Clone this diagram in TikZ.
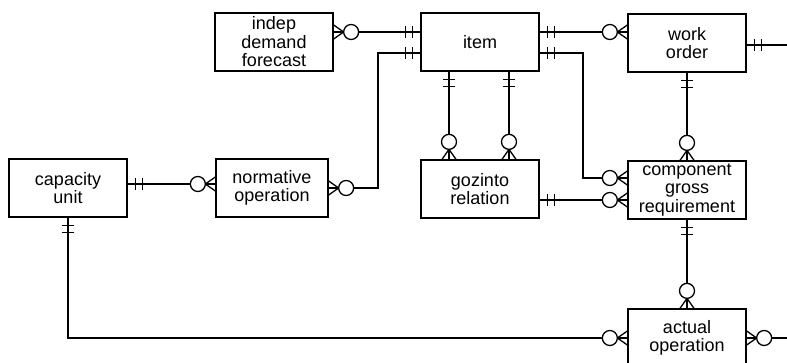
\documentclass[tikz,border=0pt]{standalone}
\usepackage{fontspec}
\newfontfamily\erfont{Liberation Sans}
\usetikzlibrary{decorations.markings}
\tikzset{
  entity/.style={draw,fill=white,minimum width=118pt,minimum height=58pt,align=center,inner sep=1pt,
    font=\erfont\fontsize{18}{18.5}\selectfont},
  one start/.style={postaction={decoration={markings,mark=at position 0 with
    {\draw (8pt,-6pt) -- (8pt,6pt) (15pt,-6pt) -- (15pt,6pt);}},decorate}},
  one end/.style={postaction={decoration={markings,mark=at position 1 with
    {\draw (-8pt,-6pt) -- (-8pt,6pt) (-15pt,-6pt) -- (-15pt,6pt);}},decorate}},
  many start/.style={postaction={decoration={markings,mark=at position 0 with
    {\draw (0pt,7pt) -- (10pt,0pt) -- (0pt,-7pt); \draw[fill=white] (17.5pt,0pt) circle (7.5pt);}},decorate}},
  many end/.style={postaction={decoration={markings,mark=at position 1 with
    {\draw (0pt,7pt) -- (-10pt,0pt) -- (0pt,-7pt); \draw[fill=white] (-17.5pt,0pt) circle (7.5pt);}},decorate}}
}
\begin{document}
\begin{tikzpicture}[x=1pt,y=-1pt,line width=1.3pt]
\useasboundingbox (0,0) rectangle (787,363);
\node[entity] (forecast) at (274,42) {indep\\demand\\forecast};
\node[entity] (item) at (480,42) {item};
\node[entity] (workorder) at (687,43) {work\\order};
\node[entity] (capacity) at (68,188) {capacity\\unit};
\node[entity,minimum width=112pt] (normative) at (272,188) {normative\\operation};
\node[entity] (gozinto) at (480,189) {gozinto\\relation};
\node[entity] (cgr) at (687,190) {component\\gross\\requirement};
\node[entity] (actual) at (687,338) {actual\\operation};
\coordinate (wo out) at (790,45);
\coordinate (ao out) at (790,338);
\coordinate (nbend) at (378,188);
\coordinate (cbend) at (583,178);
\draw[many start,one end] ([yshift=10pt]forecast.east) -- ([yshift=10pt]item.west);
\draw[one start,many end] ([yshift=10pt]item.east) -- ([yshift=10pt]item.east -| workorder.west);
\draw[one start] ([yshift=-2pt]workorder.east) -- (wo out);
\draw[one start,many end] ([yshift=-11pt]item.west) -| (nbend) -- (normative.east);
\draw[one start,many end] ([yshift=-11pt]item.east) -| (cbend) -- (cbend -| cgr.west);
\draw[one start,many end] ([xshift=-31pt]item.south) -- ([xshift=-31pt]item.south |- gozinto.north);
\draw[one start,many end] ([xshift=29pt]item.south) -- ([xshift=29pt]item.south |- gozinto.north);
\draw[one start,many end] (workorder.south) -- (workorder.south |- cgr.north);
\draw[one start,many end] ([yshift=-11pt]gozinto.east) -- ([yshift=-11pt]gozinto.east -| cgr.west);
\draw[one start,many end] (cgr.south) -- (cgr.south |- actual.north);
\draw[one start,many end] ([yshift=4pt]capacity.east) -- ([yshift=4pt]capacity.east -| normative.west);
\draw[one start,many end] (capacity.south) |- (actual.west);
\draw[many start] (actual.east) -- (ao out);
\end{tikzpicture}
\end{document}
